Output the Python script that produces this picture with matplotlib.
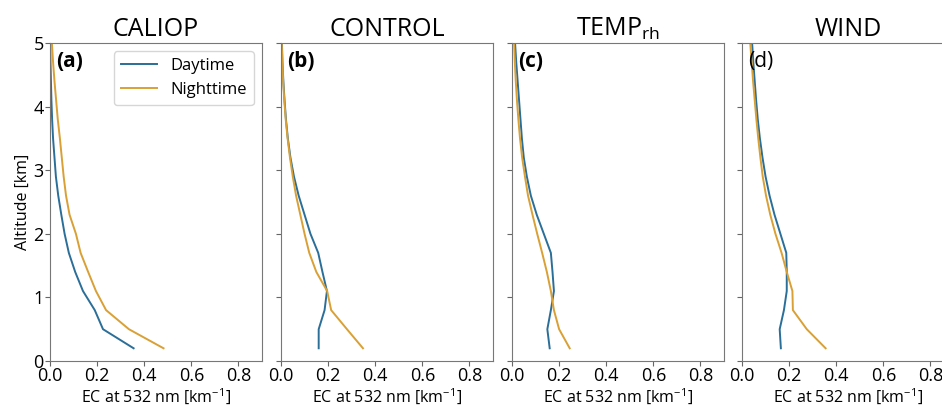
import matplotlib.pyplot as plt
import numpy as np

plt.rcParams['font.family'] = ['Open Sans', 'DejaVu Sans']
plt.rcParams['mathtext.default'] = 'regular'

# altitude levels [km]
alt = np.round(np.arange(0.2, 5.01, 0.3), 1)

# extinction coefficient at 532 nm [km-1]
caliop_day = [0.355, 0.225, 0.19, 0.14, 0.107, 0.08, 0.062, 0.048, 0.035,
              0.025, 0.019, 0.013, 0.009, 0.006, 0.004, 0.002, 0.001]
caliop_night = [0.482, 0.335, 0.238, 0.195, 0.162, 0.13, 0.11, 0.083, 0.068,
                0.058, 0.05, 0.042, 0.033, 0.026, 0.019, 0.013, 0.008]

control_day = [0.16, 0.16, 0.185, 0.195, 0.176, 0.158, 0.125, 0.1, 0.075,
               0.055, 0.04, 0.029, 0.021, 0.015, 0.01, 0.006, 0.004]
control_night = [0.348, 0.28, 0.213, 0.196, 0.15, 0.12, 0.1, 0.082, 0.064,
                 0.05, 0.038, 0.028, 0.02, 0.014, 0.009, 0.006, 0.003]

temprh_day = [0.16, 0.15, 0.165, 0.178, 0.172, 0.165, 0.135, 0.105, 0.08,
              0.063, 0.05, 0.042, 0.036, 0.03, 0.024, 0.018, 0.013]
temprh_night = [0.245, 0.2, 0.178, 0.165, 0.148, 0.128, 0.107, 0.087, 0.068,
                0.055, 0.043, 0.034, 0.027, 0.021, 0.016, 0.012, 0.009]

wind_day = [0.165, 0.16, 0.178, 0.19, 0.19, 0.188, 0.163, 0.138, 0.117,
            0.1, 0.087, 0.076, 0.067, 0.06, 0.054, 0.048, 0.043]
wind_night = [0.355, 0.275, 0.216, 0.214, 0.19, 0.168, 0.142, 0.12, 0.102,
              0.088, 0.078, 0.069, 0.061, 0.054, 0.047, 0.041, 0.035]

titles = ['CALIOP', 'CONTROL', r'TEMP$_{rh}$', 'WIND']
panel_labels = ['(a)', '(b)', '(c)', '(d)']
day_data = [caliop_day, control_day, temprh_day, wind_day]
night_data = [caliop_night, control_night, temprh_night, wind_night]

day_color = '#2b6e98'
night_color = '#d9a035'

W, H = 942, 405
fig = plt.figure(figsize=(W / 100, H / 100), dpi=100)

lefts = [50, 281, 512, 742]
ax_w, ax_bottom, ax_top = 212, 361, 43

for i in range(4):
    ax = fig.add_axes([lefts[i] / W, (H - ax_bottom) / H, ax_w / W,
                       (ax_bottom - ax_top) / H])
    ax.plot(day_data[i], alt, color=day_color, lw=1.4, label='Daytime')
    ax.plot(night_data[i], alt, color=night_color, lw=1.4, label='Nighttime')
    ax.set_xlim(0, 0.9)
    ax.set_ylim(0, 5)
    ax.set_xticks([0.0, 0.2, 0.4, 0.6, 0.8])
    ax.set_yticks([0, 1, 2, 3, 4, 5])
    ax.tick_params(labelsize=13, color='#666666', pad=1)
    for sp in ax.spines.values():
        sp.set_color('#777777')
    ax.set_title(titles[i], fontsize=18, pad=5)
    ax.set_xlabel('EC at 532 nm [km$^{-1}$]', fontsize=11.5, labelpad=1)
    weight = 'normal' if i == 3 else 'bold'
    ax.text(0.03, 0.975, panel_labels[i], transform=ax.transAxes,
            fontsize=15, fontweight=weight, va='top', ha='left')
    if i == 0:
        ax.set_ylabel('Altitude [km]', fontsize=11.5, labelpad=2)
        ax.legend(loc='upper right', fontsize=12, handlelength=2.2,
                  borderaxespad=0.5)
    else:
        ax.tick_params(labelleft=False)

fig.savefig('out.png', dpi=100)
